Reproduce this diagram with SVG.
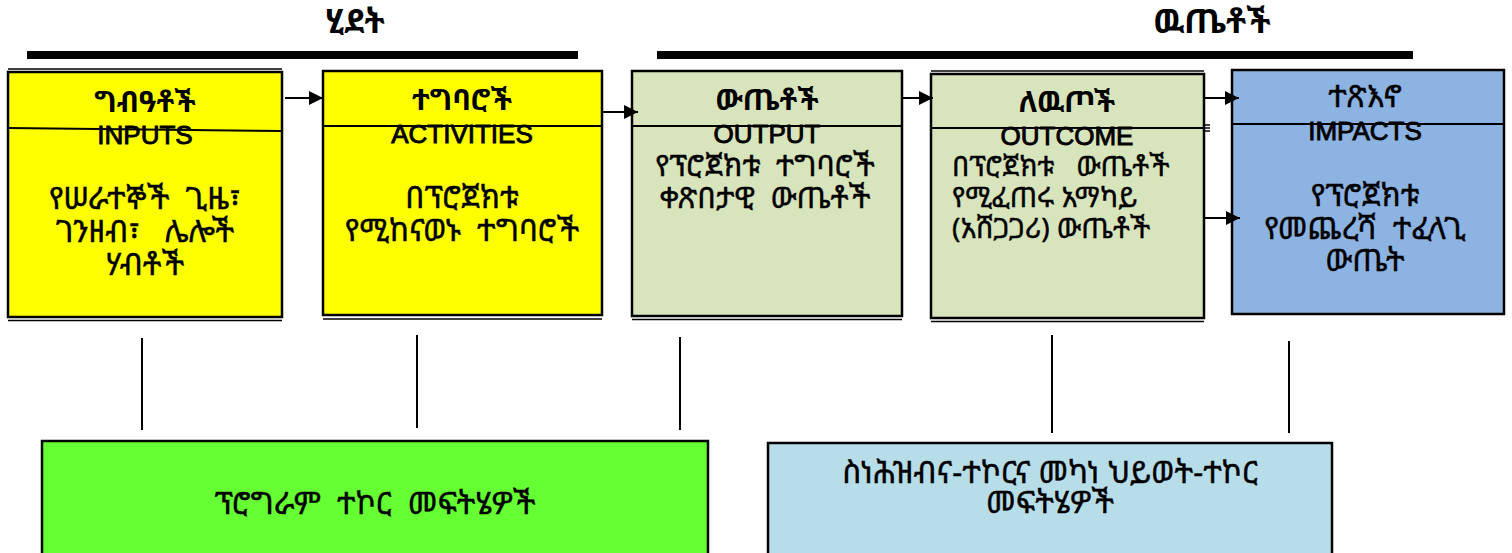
<svg xmlns="http://www.w3.org/2000/svg" width="1512" height="553" viewBox="0 0 1512 553">
<style>
.eth{font-family:"Noto Sans Ethiopic","Abyssinica SIL","Noto Serif Ethiopic","DejaVu Sans","Noto Sans",sans-serif;fill:#000}
.title{font-size:33px;font-weight:bold}
.hd{font-size:29px;font-weight:bold}
.ds{font-size:31px;stroke:#000;stroke-width:0.4}
.ds30{font-size:30px}
.ds28{font-size:28px}
.en{font-family:"Liberation Sans",Arial,sans-serif;font-size:26px;fill:#000;stroke:#000;stroke-width:0.9}
.box{stroke:#000;stroke-width:2.5}
.thin{stroke:#000;stroke-width:1.5;fill:none}
.div{stroke:#000;stroke-width:2;fill:none}
.bar{fill:#000}
.con{stroke:#000;stroke-width:2;fill:none}
</style>
<defs>
<marker id="ah" markerUnits="userSpaceOnUse" markerWidth="14" markerHeight="14" refX="14" refY="7" orient="auto">
<path d="M0,0 L14,7 L0,14 z" fill="#000"/>
</marker>
</defs>
<rect width="1512" height="553" fill="#fff"/>

<g id="title-process">
<text class="eth title" x="355" y="33" text-anchor="middle">ሂደት</text>
<rect class="bar" x="27" y="51" width="551" height="8"/>
</g>
<g id="title-results">
<text class="eth title" x="1212" y="33" text-anchor="middle">ዉጤቶች</text>
<rect class="bar" x="657" y="51" width="756" height="8"/>
</g>

<g id="node-inputs">
<rect class="box" x="8" y="72" width="274" height="245" fill="#ffff00"/>
<line class="thin" x1="8" y1="69" x2="282" y2="69"/>
<line class="thin" x1="8" y1="320.5" x2="282" y2="320.5"/>
<line class="div" x1="8" y1="128" x2="282" y2="131"/>
<text class="eth hd" x="145" y="112" text-anchor="middle">ግብዓቶች</text>
<text class="en" x="145" y="144" text-anchor="middle">INPUTS</text>
<text class="eth ds" x="145" y="209" text-anchor="middle" xml:space="preserve">የሠራተኞች  ጊዜ፣</text>
<text class="eth ds" x="145" y="242" text-anchor="middle" xml:space="preserve">ገንዘብ፣   ሌሎች</text>
<text class="eth ds" x="145" y="275" text-anchor="middle">ሃብቶች</text>
</g>

<g id="node-activities">
<rect class="box" x="323" y="71" width="279" height="244" fill="#ffff00"/>
<line class="thin" x1="323" y1="319" x2="602" y2="319"/>
<line class="div" x1="323" y1="126" x2="602" y2="126"/>
<text class="eth hd" x="462" y="110" text-anchor="middle">ተግባሮች</text>
<text class="en" x="462" y="143" text-anchor="middle">ACTIVITIES</text>
<text class="eth ds" x="462" y="208" text-anchor="middle">በፕሮጀክቱ</text>
<text class="eth ds" x="462" y="241" text-anchor="middle" xml:space="preserve">የሚከናወኑ  ተግባሮች</text>
</g>

<g id="node-output">
<rect class="box" x="632" y="71" width="270" height="245" fill="#d8e4bc"/>
<line class="thin" x1="632" y1="319.5" x2="902" y2="319.5"/>
<line class="div" x1="632" y1="126" x2="902" y2="126"/>
<text class="eth hd" x="767" y="110" text-anchor="middle">ውጤቶች</text>
<text class="en" x="767" y="143" text-anchor="middle">OUTPUT</text>
<text class="eth ds ds30" x="765" y="176" text-anchor="middle" xml:space="preserve">የፕሮጀክቱ  ተግባሮች</text>
<text class="eth ds ds30" x="765" y="208" text-anchor="middle" xml:space="preserve">ቀጽበታዊ  ውጤቶች</text>
</g>

<g id="node-outcome">
<rect class="box" x="931" y="74" width="273" height="244" fill="#d8e4bc"/>
<line class="thin" x1="931" y1="71" x2="1204" y2="71"/>
<line class="thin" x1="931" y1="321.5" x2="1204" y2="321.5"/>
<line class="div" x1="931" y1="128" x2="1204" y2="128"/>
<line class="thin" x1="1204" y1="125" x2="1210" y2="125" stroke-width="1"/>
<line class="thin" x1="1204" y1="128" x2="1210" y2="128" stroke-width="1"/>
<line class="thin" x1="1204" y1="131" x2="1210" y2="131" stroke-width="1"/>
<text class="eth hd" x="1067" y="112" text-anchor="middle">ለዉጦች</text>
<text class="en" x="1067" y="145" text-anchor="middle">OUTCOME</text>
<text class="eth ds ds28" x="952" y="176" xml:space="preserve">በፕሮጀክቱ   ውጤቶች</text>
<text class="eth ds ds28" x="952" y="207">የሚፈጠሩ አማካይ</text>
<text class="eth ds ds28" x="952" y="238">(አሸጋጋሪ) ውጤቶች</text>
</g>

<g id="node-impacts">
<rect class="box" x="1232" y="70" width="272" height="244" fill="#8db3e2"/>
<line class="div" x1="1232" y1="124" x2="1504" y2="124"/>
<text class="eth ds" x="1365" y="107" text-anchor="middle">ተጽእኖ</text>
<text class="en" x="1365" y="140" text-anchor="middle">IMPACTS</text>
<text class="eth ds" x="1365" y="206" text-anchor="middle">የፕሮጀክቱ</text>
<text class="eth ds" x="1365" y="239" text-anchor="middle" xml:space="preserve">የመጨረሻ  ተፈላጊ</text>
<text class="eth ds" x="1365" y="271" text-anchor="middle">ውጤት</text>
</g>

<g id="node-program">
<rect class="box" x="42" y="441" width="666" height="130" fill="#66ff33"/>
<text class="eth ds" x="375" y="514" text-anchor="middle" xml:space="preserve">ፕሮግራም  ተኮር  መፍትሄዎች</text>
</g>

<g id="node-population">
<rect class="box" x="768" y="443" width="564" height="130" fill="#b7dde8"/>
<text class="eth ds" x="1050" y="483" text-anchor="middle">ስነሕዝብና-ተኮርና መካነ ህይወት-ተኮር</text>
<text class="eth ds" x="1050" y="513" text-anchor="middle">መፍትሄዎች</text>
</g>

<g id="connectors">
<line class="con" x1="285" y1="98" x2="323" y2="98" marker-end="url(#ah)"/>
<line class="con" x1="602" y1="112" x2="638" y2="112" marker-end="url(#ah)"/>
<line class="con" x1="902" y1="98" x2="933" y2="98" marker-end="url(#ah)"/>
<line class="con" x1="1204" y1="98" x2="1239" y2="98" marker-end="url(#ah)"/>
<line class="con" x1="1204" y1="218" x2="1240" y2="218" marker-end="url(#ah)"/>
<line class="con" x1="142" y1="338" x2="142" y2="430"/>
<line class="con" x1="417" y1="335" x2="417" y2="428"/>
<line class="con" x1="680" y1="337" x2="680" y2="430"/>
<line class="con" x1="1052" y1="335" x2="1052" y2="433"/>
<line class="con" x1="1289" y1="341" x2="1289" y2="433"/>
</g>
</svg>
